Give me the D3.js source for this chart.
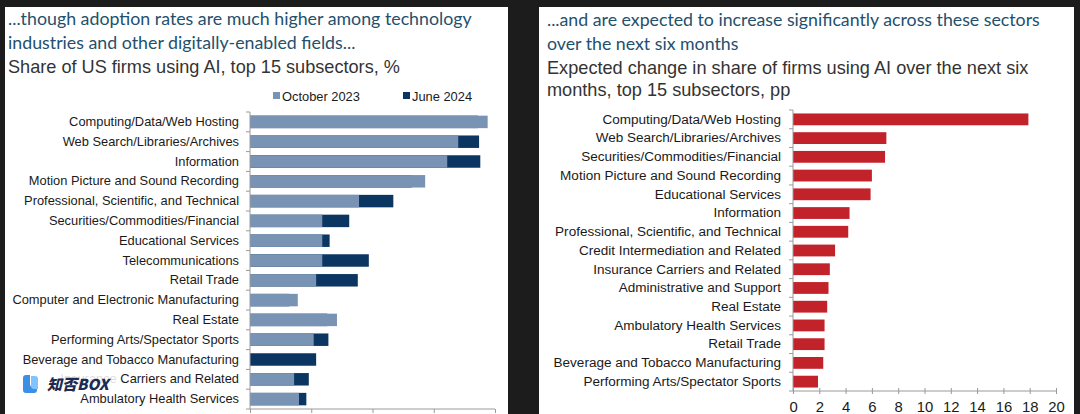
<!DOCTYPE html>
<html><head><meta charset="utf-8">
<script src="https://cdn.jsdelivr.net/npm/d3@7"></script>
<style>body{margin:0;background:#1c1c1c;overflow:hidden}svg{display:block}</style>
</head><body>
<svg id="c" width="1080" height="414"></svg>
<script>
// ---------- data ----------
const leftCategories = ["Computing/Data/Web Hosting","Web Search/Libraries/Archives","Information","Motion Picture and Sound Recording","Professional, Scientific, and Technical","Securities/Commodities/Financial","Educational Services","Telecommunications","Retail Trade","Computer and Electronic Manufacturing","Real Estate","Performing Arts/Spectator Sports","Beverage and Tobacco Manufacturing","Insurance Carriers and Related","Ambulatory Health Services"];
const leftOct2023 = [19.4,17.0,16.1,14.3,8.9,5.9,5.9,5.9,5.4,3.9,7.1,5.2,0,3.6,4.0];
const leftJun2024 = [18.6,18.7,18.8,13.2,11.7,8.1,6.5,9.7,8.8,3.2,6.3,6.4,5.4,4.8,4.6];
const leftTicks = [0,5,10,15,20];
const legendLabels = ["October 2023","June 2024"];

const rightCategories = ["Computing/Data/Web Hosting","Web Search/Libraries/Archives","Securities/Commodities/Financial","Motion Picture and Sound Recording","Educational Services","Information","Professional, Scientific, and Technical","Credit Intermediation and Related","Insurance Carriers and Related","Administrative and Support","Real Estate","Ambulatory Health Services","Retail Trade","Beverage and Tobacco Manufacturing","Performing Arts/Spectator Sports"];
const rightValues = [17.9,7.1,7.0,6.0,5.9,4.3,4.2,3.2,2.8,2.7,2.6,2.4,2.4,2.3,1.9];
const rightTicks = [0,2,4,6,8,10,12,14,16,18,20];

const leftTitle = ["...though adoption rates are much higher among technology","industries and other digitally-enabled fields..."];
const leftSubtitle = ["Share of US firms using AI, top 15 subsectors, %"];
const rightTitle = ["...and are expected to increase significantly across these sectors","over the next six months"];
const rightSubtitle = ["Expected change in share of firms using AI over the next six","months, top 15 subsectors, pp"];

// ---------- style ----------
const C = {bg:"#1c1c1c", panel:"#ffffff", title:"#23506d", sub:"#333333", label:"#1a1a1a",
  light:"#7893b4", dark:"#0c3662", red:"#c2232b", axis:"#9a9a9a"};
const titleFont = "Lato, 'Open Sans', sans-serif";
const bodyFont = "'Liberation Sans', Arial, sans-serif";

const svg = d3.select("#c");
svg.append("rect").attr("width",1080).attr("height",414).attr("fill",C.bg);
svg.append("rect").attr("x",5).attr("y",7).attr("width",503).attr("height",420).attr("fill",C.panel);
svg.append("rect").attr("x",539).attr("y",7).attr("width",535).attr("height",420).attr("fill",C.panel);

function textBlock(lines, x, baselines, targetW, font, color, fitIdx){
  const sel = svg.append("g").selectAll("text").data(lines).join("text")
    .attr("x",x).attr("y",(d,i)=>baselines[i]).attr("font-family",font)
    .attr("font-size",16).attr("fill",color).text(d=>d);
  const w = sel.nodes()[fitIdx].getComputedTextLength();
  sel.attr("font-size",16*targetW/w);
  return sel;
}
textBlock(leftTitle, 8, [25,49], 464, titleFont, C.title, 0);
textBlock(leftSubtitle, 8, [73], 392, bodyFont, C.sub, 0);
textBlock(rightTitle, 547, [26,50], 493, titleFont, C.title, 0);
textBlock(rightSubtitle, 547, [74,96], 482, bodyFont, C.sub, 0);

function fitSize(str, targetW){
  const t = svg.append("text").attr("font-family",bodyFont).attr("font-size",12).text(str);
  const w = t.node().getComputedTextLength(); t.remove(); return 12*targetW/w;
}

// ---------- left chart ----------
const lx = d3.scaleLinear().domain([0,20]).range([250,495]);
const ly = d3.scaleBand().domain(leftCategories).range([112,409]).paddingInner(0.37).paddingOuter(0.185);
const lfs = fitSize("Professional, Scientific, and Technical",215);

const lg = svg.append("g");
lg.selectAll("rect.jun").data(leftCategories).join("rect").attr("class","jun")
  .attr("x",lx(0)).attr("y",d=>ly(d)).attr("height",ly.bandwidth())
  .attr("width",(d,i)=>lx(leftJun2024[i])-lx(0)).attr("fill",C.dark);
lg.selectAll("rect.oct").data(leftCategories).join("rect").attr("class","oct")
  .attr("x",lx(0)).attr("y",d=>ly(d)).attr("height",ly.bandwidth())
  .attr("width",(d,i)=>lx(leftOct2023[i])-lx(0)).attr("fill",C.light);

const lyAxis = lg.append("g").attr("transform",`translate(${lx(0)},0)`)
  .call(d3.axisLeft(ly).tickSize(0).tickPadding(11));
lyAxis.select(".domain").attr("stroke",C.axis).attr("d",`M0,112V409`);
lyAxis.selectAll("text").attr("font-family",bodyFont).attr("font-size",lfs).attr("fill",C.label);
lg.selectAll("line.lyt").data(d3.range(16)).join("line").attr("class","lyt")
  .attr("x1",lx(0)-4).attr("x2",lx(0)).attr("y1",i=>112+i*(297/15)).attr("y2",i=>112+i*(297/15))
  .attr("stroke",C.axis);
const lxAxis = lg.append("g").attr("transform","translate(0,409)")
  .call(d3.axisBottom(lx).tickValues(leftTicks).tickSize(4).tickFormat(""));
lxAxis.select(".domain").attr("stroke",C.axis).attr("d",`M${lx(0)},0H${lx(20)}`);
lxAxis.selectAll("line").attr("stroke",C.axis);

// legend
const leg = svg.append("g");
const legX = [273,403];
legendLabels.forEach((t,i)=>{
  leg.append("rect").attr("x",legX[i]).attr("y",92).attr("width",7).attr("height",7)
    .attr("fill",i===0?C.light:C.dark);
  leg.append("text").attr("x",legX[i]+9).attr("y",100.5).attr("font-family",bodyFont)
    .attr("font-size",lfs).attr("fill",C.label).text(t);
});

// ---------- right chart ----------
const rx = d3.scaleLinear().domain([0,20]).range([793,1056]);
const ry = d3.scaleBand().domain(rightCategories).range([110,391]).paddingInner(0.37).paddingOuter(0.185);
const rfs = fitSize("Professional, Scientific, and Technical",226);
const rg = svg.append("g");
rg.selectAll("rect").data(rightCategories).join("rect")
  .attr("x",rx(0)).attr("y",d=>ry(d)).attr("height",ry.bandwidth())
  .attr("width",(d,i)=>rx(rightValues[i])-rx(0)).attr("fill",C.red);
const ryAxis = rg.append("g").attr("transform",`translate(${rx(0)},0)`)
  .call(d3.axisLeft(ry).tickSize(0).tickPadding(12));
ryAxis.select(".domain").attr("stroke",C.axis).attr("d","M0,110V391");
ryAxis.selectAll("text").attr("font-family",bodyFont).attr("font-size",rfs).attr("fill",C.label);
rg.selectAll("line.ryt").data(d3.range(16)).join("line").attr("class","ryt")
  .attr("x1",rx(0)-4).attr("x2",rx(0)).attr("y1",i=>110+i*(281/15)).attr("y2",i=>110+i*(281/15))
  .attr("stroke",C.axis);
const rxAxis = rg.append("g").attr("transform","translate(0,391)")
  .call(d3.axisBottom(rx).tickValues(rightTicks).tickSize(3).tickPadding(7));
rxAxis.select(".domain").attr("stroke",C.axis).attr("d",`M${rx(0)},0H${rx(20)}`);
rxAxis.selectAll("line").attr("stroke",C.axis).attr("y1",-3).attr("y2",3);
rxAxis.selectAll("text").attr("font-family",bodyFont).attr("font-size",rfs*1.1).attr("fill",C.label);

// ---------- watermark overlay (as in the reference) ----------
const wm = svg.append("g");
wm.append("rect").attr("x",14).attr("y",371).attr("width",104).attr("height",21).attr("fill","#fff").attr("opacity",0.85);
wm.append("path").attr("d","M23,378 q0,-3 3,-3 h4 v9 q0,3 3,3 h4 v3 q0,3 -3,3 h-8 q-3,0 -3,-3 z").attr("fill","#3d8fe6");
wm.append("path").attr("d","M31,376 h4 q3,0 3,3 v10 h-4 q-3,0 -3,-3 z").attr("fill","#7fc3ff");
wm.append("text").attr("x",47).attr("y",390).attr("font-family","'Noto Sans CJK SC', sans-serif")
  .attr("font-weight",900).attr("font-style","italic").attr("font-size",15).attr("fill","#1d2a52").text("知否BOX");
</script>
</body></html>
